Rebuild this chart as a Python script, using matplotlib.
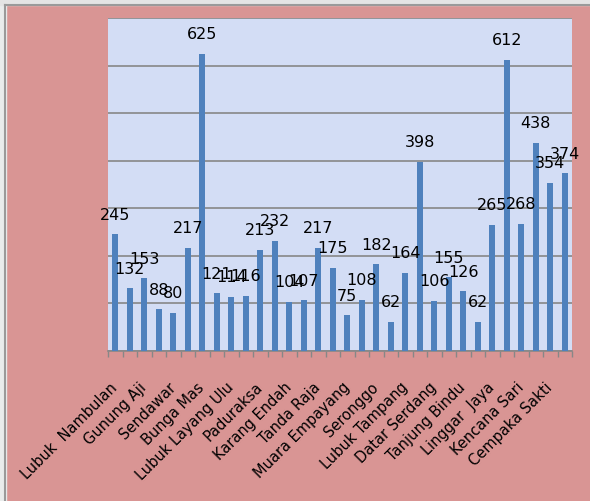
import matplotlib
matplotlib.use('Agg')
import matplotlib.pyplot as plt
import numpy as np
from matplotlib.patches import Rectangle

# Values per village (32 bars), labels shown on every other bar
values = [245, 132, 153, 88, 80, 217, 625, 121, 114, 116, 213, 232, 104, 107, 217, 175,
          75, 108, 182, 62, 164, 398, 106, 155, 126, 62, 265, 612, 268, 438, 354, 374]
tick_labels = ['Lubuk  Nambulan', 'Gunung Aji', 'Sendawar', 'Bunga Mas', 'Lubuk Layang Ulu',
               'Paduraksa', 'Karang Endah', 'Tanda Raja', 'Muara Empayang', 'Seronggo',
               'Lubuk Tampang', 'Datar Serdang', 'Tanjung Bindu', 'Linggar  Jaya',
               'Kencana Sari', 'Cempaka Sakti']

pink = '#D99594'
bar_color = '#4F81BD'
grid_color = '#878787'

W, H = 590, 502
fig = plt.figure(figsize=(W / 100, H / 100), dpi=100, facecolor=pink)

# screenshot edge (light strip + grey border at top/left)
fig.patches.append(Rectangle((0, 0), 6 / W, 1, transform=fig.transFigure, color='#E9ECEC', zorder=0))
fig.patches.append(Rectangle((0, 1 - 6 / H), 1, 6 / H, transform=fig.transFigure, color='#E4E4E4', zorder=0))
fig.lines.append(plt.Line2D([5 / W, 5 / W], [0, 1 - 6 / H], transform=fig.transFigure, color='#9A9A9A', lw=1.5))
fig.lines.append(plt.Line2D([5 / W, 1], [1 - 6 / H, 1 - 6 / H], transform=fig.transFigure, color='#9A9A9A', lw=1.5))

ax = fig.add_axes([108 / W, 150 / H, 464 / W, 333 / H])
ax.set_facecolor('#D3DDF5')

x = np.arange(len(values))
ax.bar(x, values, width=0.42, color=bar_color, zorder=3)

for xi, v in zip(x, values):
    ax.annotate(str(v), (xi, v), xytext=(0, 9), textcoords='offset points',
                ha='center', va='bottom', fontsize=11.5, color='black', zorder=4)

ax.set_xlim(-0.5, len(values) - 0.5)
ax.set_ylim(0, 700)
ax.set_yticks(np.arange(0, 701, 100))
ax.set_yticklabels([])
ax.tick_params(axis='y', length=0)
ax.grid(axis='y', color=grid_color, lw=1.2, zorder=1)

# ticks between categories, labels on every other category
ax.set_xticks(np.arange(-0.5, len(values), 1.0))
ax.set_xticklabels([])
ax.tick_params(axis='x', which='major', direction='out', length=4, color=grid_color, width=1)
ax.set_xticks(np.arange(0, len(values), 2), minor=True)
ax.set_xticklabels(tick_labels, minor=True, rotation=45, ha='right', va='center',
                   rotation_mode='anchor', fontsize=10.5)
ax.tick_params(axis='x', which='minor', length=0, pad=24)

for s in ['left', 'right', 'top']:
    ax.spines[s].set_visible(False)
ax.spines['bottom'].set_color(grid_color)
ax.spines['bottom'].set_linewidth(1.2)

fig.savefig('out.png', dpi=100, facecolor=pink)
